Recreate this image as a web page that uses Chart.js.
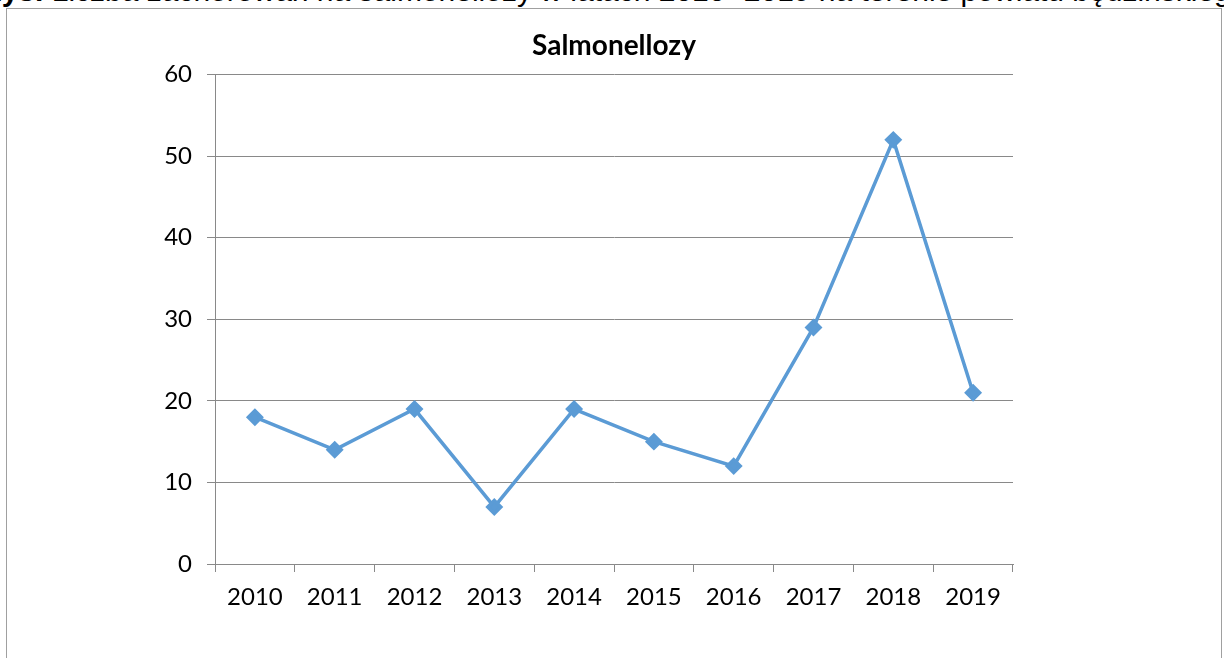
<!DOCTYPE html>
<html>
<head>
<meta charset="utf-8">
<script src="https://cdn.jsdelivr.net/npm/chart.js@4"></script>
<style>
  html, body { margin: 0; padding: 0; background: #fff; overflow: hidden; }
  #wrap { position: relative; width: 1224px; height: 658px; }
  #caption {
    position: absolute; left: -20px; top: -26px; white-space: nowrap; line-height: 34px;
    font-family: "Liberation Sans", Arial, sans-serif; font-size: 30px; color: #000;
  }
  #frame {
    position: absolute; left: 6px; top: 8px; width: 1214px; height: 700px;
    border: 1px solid #a0a0a0;
  }
  #chart { position: absolute; left: 0; top: 0; }
</style>
</head>
<body>
<div id="wrap">
  <div id="caption"><b>Rys.</b> Liczba zachorowań na salmonellozy w latach 2010 -2019 na terenie powiatu będzińskiego</div>
  <div id="frame"></div>
  <canvas id="chart" width="1224" height="658"></canvas>
</div>
<script>
// values
const years = ["2010", "2011", "2012", "2013", "2014", "2015", "2016", "2017", "2018", "2019"];
const cases = [18, 14, 19, 7, 19, 15, 12, 29, 52, 21];
const yTicks = [0, 10, 20, 30, 40, 50, 60];

const gridColor = "#898989";
const tickFont = { family: "Lato, 'Open Sans', sans-serif", size: 24, lineHeight: 1.2 };

new Chart(document.getElementById("chart").getContext("2d"), {
  type: "line",
  data: {
    labels: years,
    datasets: [
      {
        label: "Salmonellozy",
        data: cases,
        borderColor: "#5b9bd5",
        backgroundColor: "#5b9bd5",
        borderWidth: 3.5,
        pointStyle: "rectRot",
        pointRadius: 6.5,
        pointHoverRadius: 6.5,
        tension: 0,
      },
    ],
  },
  options: {
    responsive: false,
    maintainAspectRatio: false,
    animation: false,
    layout: { padding: { left: 0, right: 211, top: 0, bottom: 0 } },
    plugins: {
      legend: { display: false },
      tooltip: { enabled: false },
      title: {
        display: true,
        fullSize: false,
        text: "Salmonellozy",
        color: "#000",
        font: { family: "Lato, 'Open Sans', sans-serif", size: 28, weight: "bold", lineHeight: 1.2 },
        padding: { top: 29, bottom: 12 },
      },
    },
    scales: {
      x: {
        offset: true,
        grid: {
          offset: true,
          drawOnChartArea: false,
          drawTicks: true,
          tickLength: 8,
          color: gridColor,
        },
        border: { display: true, color: gridColor },
        ticks: { color: "#000", font: tickFont, padding: 11, maxRotation: 0 },
        afterFit: (s) => { s.height = 94; },
      },
      y: {
        min: 0,
        max: 60,
        afterBuildTicks: (s) => { s.ticks = yTicks.map((v) => ({ value: v })); },
        grid: { color: gridColor, tickLength: 8, drawTicks: true },
        border: { display: true, color: gridColor },
        ticks: { color: "#000", font: tickFont, padding: 15 },
        afterFit: (s) => { s.width = 215; },
      },
    },
  },
});
</script>
</body>
</html>
